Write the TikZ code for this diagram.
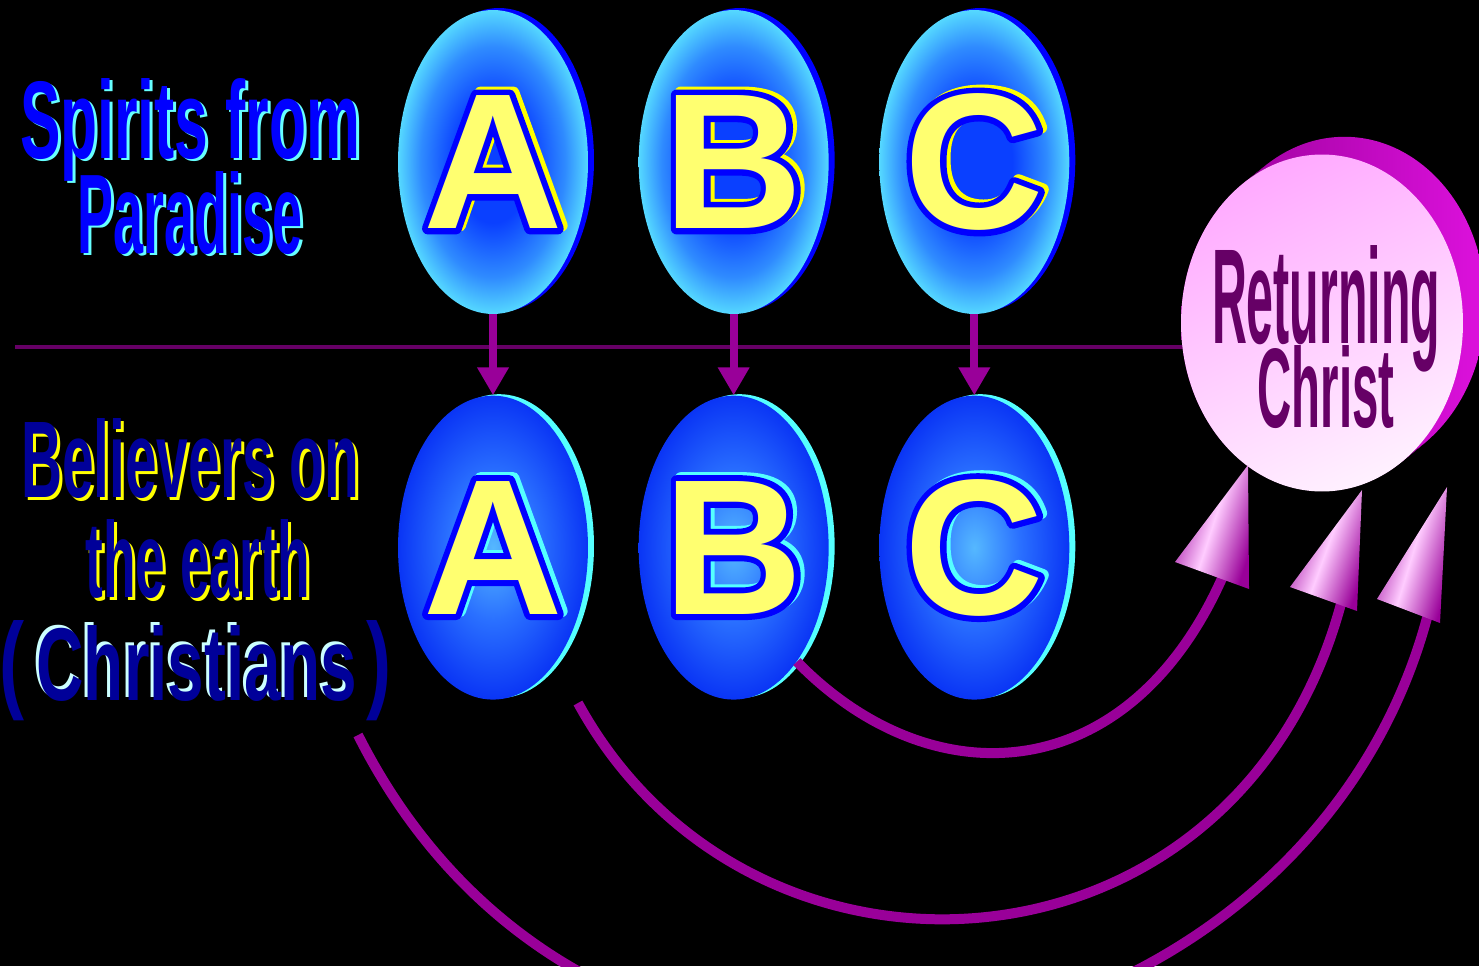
\documentclass[tikz,border=0pt]{standalone}
\usepackage{fontspec}
\setmainfont{Liberation Sans}
\usepackage{graphicx}
\usepackage{tikz}
\usetikzlibrary{arrows.meta,positioning,shapes.geometric,shadows}

\definecolor{ovalrim}{HTML}{0000FF}
\definecolor{ovaltopin}{HTML}{0A40FF}
\definecolor{ovaltopmid}{HTML}{2F8BFF}
\definecolor{ovaltopout}{HTML}{55D8FF}
\definecolor{ovallowin}{HTML}{55B8FF}
\definecolor{ovallowmid}{HTML}{2A70FF}
\definecolor{ovallowout}{HTML}{0A35F5}
\definecolor{ovalcyan}{HTML}{55FFFF}
\definecolor{letterfill}{HTML}{FFFF70}
\definecolor{letteredge}{HTML}{0000FF}
\definecolor{spiritblue}{HTML}{0000FF}
\definecolor{spiritshade}{HTML}{66FFFF}
\definecolor{earthnavy}{HTML}{000099}
\definecolor{earthshade}{HTML}{FFFF00}
\definecolor{christshade}{HTML}{CCFFFF}
\definecolor{linkpurple}{HTML}{990099}
\definecolor{divider}{HTML}{660066}
\definecolor{christink}{HTML}{660066}
\definecolor{christpink}{HTML}{FFAAFF}
\definecolor{christlight}{HTML}{FFF0FF}
\definecolor{christdark}{HTML}{990099}
\definecolor{christmag}{HTML}{DD11DD}
\definecolor{conelight}{HTML}{FFCCFF}

\pgfdeclareradialshading{topglow}{\pgfpointorigin}{color(0bp)=(ovaltopin); color(10bp)=(ovaltopin); color(19bp)=(ovaltopmid); color(25bp)=(ovaltopout); color(50bp)=(ovaltopout)}
\pgfdeclareradialshading{lowglow}{\pgfpointorigin}{color(0bp)=(ovallowin); color(12bp)=(ovallowmid); color(25bp)=(ovallowout); color(50bp)=(ovallowout)}

% caption line with a shifted copy behind it
\newcommand{\wordart}[8]{% name, position, width, height, colour, shadow colour, shadow shift, text
  \node[wordtext, text=#6, shift={(#7)}] at (#2) {\resizebox{#3}{#4}{#8}};
  \node[wordtext, text=#5] (#1) at (#2) {\resizebox{#3}{#4}{#8}};
}
% glyphs filled and stroked
\makeatletter
\newcommand{\strokedtext}[2]{\pgfsys@invoke{2 Tr #1 w 1 j}#2\pgfsys@invoke{0 Tr}}
\makeatother
% outlined letter inside an oval
\newcommand{\ovalletter}[3]{% oval, letter, shadow colour
  \node[lettertext, text=#3, xshift=0.08cm, yshift=0.06cm] at (#1) {\strokedtext{6.8}{#2}};
  \node[lettertext, text=letteredge] at (#1) {\strokedtext{6.8}{#2}};
  \node[lettertext, text=letterfill] (#1-letter) at (#1) {#2};
}

\tikzset{
  wordtext/.style={anchor=base, inner sep=0pt, font=\bfseries},
  lettertext/.style={inner sep=0pt, font=\fontsize{110}{110}\selectfont\bfseries},
  oval/.style={ellipse, minimum width=3.8cm, minimum height=6.08cm, inner sep=0pt},
  topoval/.style={oval, shade, shading=topglow,
    general shadow={shadow xshift=0.12cm, shadow yshift=0.04cm, fill=ovalrim}},
  lowoval/.style={oval, shade, shading=lowglow,
    general shadow={shadow xshift=0.12cm, shadow yshift=0.03cm, fill=ovalcyan}},
  droparrow/.style={draw=linkpurple, line width=0.16cm, -{Triangle[width=0.6cm,length=0.56cm]}},
  divline/.style={draw=divider, line width=0.08cm},
  rise/.style={draw=linkpurple, line width=0.2cm},
  cone/.style={top color=linkpurple, bottom color=linkpurple, middle color=conelight},
  christdisc/.style={ellipse, minimum width=5.64cm, minimum height=6.74cm, inner sep=0pt,
    top color=christpink, bottom color=christlight, shading angle=25},
  christside/.style={left color=christdark, right color=christmag},
}

\begin{document}
\begin{tikzpicture}[x=0.02cm, y=-0.02cm]
\useasboundingbox (0,0) rectangle (1479,966);
\fill[black] (0,0) rectangle (1479,966);
\clip (0,0) rectangle (1479,966);

% captions on the left
\wordart{spirits}{190,158}{6.8cm}{1.6cm}{spiritblue}{spiritshade}{0.06cm,-0.06cm}{Spirits from}
\wordart{paradise}{190,253}{4.5cm}{1.64cm}{spiritblue}{spiritshade}{0.06cm,-0.06cm}{Paradise}
\wordart{believers}{190,497}{6.76cm}{1.58cm}{earthnavy}{earthshade}{0.06cm,-0.06cm}{Believers on}
\wordart{earth}{198,597}{4.5cm}{1.56cm}{earthnavy}{earthshade}{0.06cm,-0.06cm}{the earth}
\wordart{christians}{197,700}{6.42cm}{1.5cm}{earthnavy}{christshade}{-0.06cm,0.06cm}{Christians}
\node[wordtext, text=earthnavy] (lparen) at (12,698) {\resizebox{0.5cm}{1.56cm}{(}};
\node[wordtext, text=earthnavy] (rparen) at (379,698) {\resizebox{0.5cm}{1.56cm}{)}};

% divider
\coordinate (divL) at (15,347);
\coordinate (divR) at (1186,347);
\draw[divline] (divL) -- (divR);

% ovals
\node[topoval] (a1) at (493,162) {};
\node[topoval, right=1cm of a1] (b1) {};
\node[topoval, right=1cm of b1] (c1) {};
\node[lowoval, below=1.62cm of a1] (a2) {};
\node[lowoval, below=1.62cm of b1] (b2) {};
\node[lowoval, below=1.62cm of c1] (c2) {};
\ovalletter{a1}{A}{earthshade}
\ovalletter{b1}{B}{earthshade}
\ovalletter{c1}{C}{earthshade}
\ovalletter{a2}{A}{ovalcyan}
\ovalletter{b2}{B}{ovalcyan}
\ovalletter{c2}{C}{ovalcyan}
\draw[droparrow] (a1) -- (a2);
\draw[droparrow] (b1) -- (b2);
\draw[droparrow] (c1) -- (c2);

% returning christ
\foreach \k in {0,...,14}
  \fill[christside] (1322+1.6*\k, 323-1.3*\k) ellipse [x radius=141, y radius=168];
\node[christdisc] (christ) at (1322,323) {};
\node[wordtext, text=christink] (returning) at (1326,343) {\resizebox{4.56cm}{1.96cm}{Returning}};
\node[wordtext, text=christink] (christname) at (1326,427) {\resizebox{2.74cm}{1.64cm}{Christ}};

% rising links
\coordinate (s2) at (578,703);
\coordinate (s3) at (358,735);
\coordinate (h1b) at (1223,576);
\coordinate (h2b) at (1342,600);
\coordinate (h3b) at (1428,614);
\draw[rise] (b2.299) .. controls (932,800) and (1129,789) .. (h1b);
\draw[rise] (s2) .. controls (751,1020) and (1239,991) .. (h2b);
\draw[rise] (s3) .. controls (605,1225) and (1305,1083) .. (h3b);

% cone heads
\coordinate (h1t) at (1248,465); \coordinate (h1l) at (1175,562); \coordinate (h1r) at (1249,589);
\coordinate (h2t) at (1362,490); \coordinate (h2l) at (1290,587); \coordinate (h2r) at (1357,611);
\coordinate (h3t) at (1447,487); \coordinate (h3l) at (1377,599); \coordinate (h3r) at (1440,623);
\shade[cone, shading angle=72] (h1l) -- (h1t) -- (h1r) -- cycle;
\shade[cone, shading angle=70] (h2l) -- (h2t) -- (h2r) -- cycle;
\shade[cone, shading angle=73] (h3l) -- (h3t) -- (h3r) -- cycle;
\end{tikzpicture}
\end{document}
